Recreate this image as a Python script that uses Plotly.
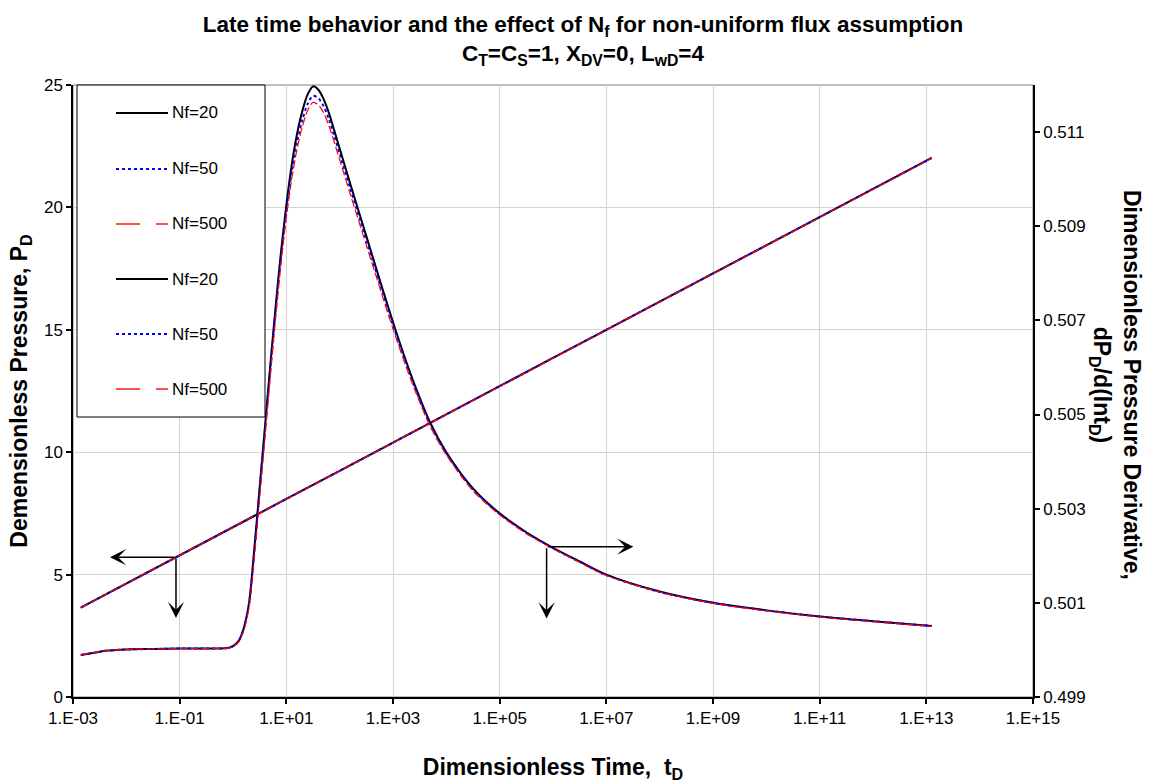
import plotly.graph_objects as go

# ---------------- data ----------------
series_names = ["Nf=20", "Nf=50", "Nf=500"]

t_p = [1.4e-3, 1e-2, 1e-1, 1, 10, 100, 1e3, 1e4, 1e5, 1e6, 1e7, 1e8, 1e9, 1e10, 1e11, 1e12, 1.26e13]
p_nf20 = [3.65, 4.64, 5.79, 6.94, 8.09, 9.24, 10.40, 11.55, 12.70, 13.85, 15.00, 16.15, 17.30, 18.45, 19.60, 20.75, 22.02]
p_nf50 = [3.65, 4.64, 5.79, 6.94, 8.09, 9.24, 10.40, 11.55, 12.70, 13.85, 15.00, 16.15, 17.30, 18.45, 19.60, 20.75, 22.02]
p_nf500 = [3.65, 4.64, 5.79, 6.94, 8.09, 9.24, 10.39, 11.54, 12.69, 13.84, 14.99, 16.14, 17.29, 18.44, 19.59, 20.74, 22.01]

t_d = [1.4e-3, 2.5e-3, 4e-3, 1e-2, 3.16e-2, 0.1, 0.316, 0.79, 1, 1.26, 1.58, 2, 2.51, 3.16, 3.98,
       5.01, 6.31, 7.94, 10, 12.6, 15.8, 20, 25.1, 31.6, 39.8, 50.1, 63.1, 79.4, 100, 158, 251,
       398, 631, 1000, 1585, 2512, 5012, 1e4, 3.16e4, 1e5, 3.16e5, 1e6, 3.16e6, 1e7, 1e8, 1e9,
       1e10, 1e11, 1e12, 1.26e13]
d_nf20 = [0.49989, 0.49994, 0.49998, 0.50001, 0.50002, 0.50003, 0.50003, 0.50004, 0.50008, 0.50018,
          0.50045, 0.50100, 0.50215, 0.50345, 0.50475, 0.50605, 0.50730, 0.50845, 0.50945, 0.51030,
          0.51095, 0.51145, 0.51180, 0.51197, 0.51190, 0.51170, 0.51140, 0.51103, 0.51065, 0.50990,
          0.50916, 0.50842, 0.50768, 0.50696, 0.50628, 0.50565, 0.50482, 0.50420, 0.50343, 0.50290,
          0.50250, 0.50217, 0.50188, 0.50160, 0.50124, 0.50100, 0.50084, 0.50071, 0.50061, 0.50051]
d_nf50 = [0.49989, 0.49994, 0.49998, 0.50001, 0.50002, 0.50003, 0.50003, 0.50004, 0.50008, 0.50018,
          0.50044, 0.50098, 0.50210, 0.50340, 0.50468, 0.50597, 0.50722, 0.50835, 0.50933, 0.51015,
          0.51078, 0.51126, 0.51160, 0.51177, 0.51172, 0.51155, 0.51127, 0.51091, 0.51054, 0.50980,
          0.50907, 0.50834, 0.50761, 0.50690, 0.50623, 0.50561, 0.50479, 0.50418, 0.50341, 0.50289,
          0.50249, 0.50216, 0.50187, 0.50159, 0.50123, 0.50100, 0.50084, 0.50071, 0.50061, 0.50051]
d_nf500 = [0.49989, 0.49994, 0.49998, 0.50001, 0.50002, 0.50003, 0.50003, 0.50004, 0.50007, 0.50016,
           0.50040, 0.50090, 0.50195, 0.50322, 0.50450, 0.50580, 0.50705, 0.50820, 0.50918, 0.51000,
           0.51063, 0.51112, 0.51146, 0.51163, 0.51158, 0.51141, 0.51113, 0.51078, 0.51041, 0.50968,
           0.50896, 0.50824, 0.50752, 0.50682, 0.50616, 0.50555, 0.50474, 0.50414, 0.50338, 0.50287,
           0.50247, 0.50215, 0.50186, 0.50158, 0.50123, 0.50099, 0.50083, 0.50070, 0.50060, 0.50050]

x_tickvals = [1e-3, 1e-1, 1e1, 1e3, 1e5, 1e7, 1e9, 1e11, 1e13, 1e15]
x_ticktext = ["1.E-03", "1.E-01", "1.E+01", "1.E+03", "1.E+05", "1.E+07", "1.E+09", "1.E+11", "1.E+13", "1.E+15"]
y_tickvals = [0, 5, 10, 15, 20, 25]
y2_tickvals = [0.499, 0.501, 0.503, 0.505, 0.507, 0.509, 0.511]

# arrow anchor points (log10 t, P_D)
arrow_left_base = (-1.069, 5.71)
arrow_left_tips = [(-2.306, 5.71), (-1.069, 3.23)]
arrow_right_base = (5.88, 6.14)
arrow_right_tips = [(7.507, 6.14), (5.88, 3.21)]

# ---------------- styling ----------------
FONT = "Arial, Liberation Sans, sans-serif"
styles = [
    dict(color="#000000", width=2, dash="solid"),
    dict(color="#0000FF", width=2, dash="dot"),
    dict(color="#FF0000", width=1.2, dash="8px,3px"),
]

fig = go.Figure()
p_series = [p_nf20, p_nf50, p_nf500]
d_series = [d_nf20, d_nf50, d_nf500]
for name, ys, st in zip(series_names, p_series, styles):
    fig.add_trace(go.Scatter(x=t_p, y=ys, mode="lines", name=name, line=st,
                             yaxis="y", showlegend=False))
for name, ys, st in zip(series_names, d_series, styles):
    fig.add_trace(go.Scatter(x=t_d, y=ys, mode="lines", name=name,
                             line=dict(**st, shape="spline", smoothing=0.8),
                             yaxis="y2", showlegend=False))

W, H = 1149, 783
ML, MR, MT, MB = 73, 116, 85, 86
PW, PH = W - ML - MR, H - MT - MB


def px2paper(px, py):
    return (px - ML) / PW, (H - MB - py) / PH


shapes = []
annotations = []

# plot area border (gray)
shapes.append(dict(type="rect", xref="paper", yref="paper", x0=0, x1=1, y0=0, y1=1,
                   line=dict(color="#808080", width=1), layer="below"))

# manual legend box
lx0, ly0 = px2paper(77, 417)
lx1, ly1 = px2paper(265, 85)
shapes.append(dict(type="rect", xref="paper", yref="paper", x0=lx0, x1=lx1, y0=ly0, y1=ly1,
                   line=dict(color="#000000", width=1), fillcolor="white", layer="above"))
legend_rows_py = [113, 169, 224, 279, 334, 389]
legend_labels = series_names + series_names
legend_styles = [
    dict(color="#000000", width=2, dash="solid"),
    dict(color="#0000FF", width=2, dash="3px,3px"),
    dict(color="#FF5050", width=2, dash="24px,16px"),
] * 2
for py, lab, st in zip(legend_rows_py, legend_labels, legend_styles):
    xa, ya = px2paper(116, py)
    xb, _ = px2paper(168, py)
    shapes.append(dict(type="line", xref="paper", yref="paper", x0=xa, x1=xb, y0=ya, y1=ya,
                       line=st, layer="above"))
    xt, _ = px2paper(170, py)
    annotations.append(dict(xref="paper", yref="paper", x=xt, y=ya, text=lab, showarrow=False,
                            xanchor="left", yanchor="middle",
                            font=dict(family=FONT, size=17, color="#000000")))

# arrows
for base, tips in [(arrow_left_base, arrow_left_tips), (arrow_right_base, arrow_right_tips)]:
    for tip in tips:
        annotations.append(dict(x=tip[0], y=tip[1], ax=base[0], ay=base[1],
                                xref="x", yref="y", axref="x", ayref="y",
                                text="", showarrow=True, arrowhead=3, arrowsize=1.8,
                                arrowwidth=1.5, arrowcolor="#000000", standoff=0))

# right axis title (reads top to bottom)
rx, ry = px2paper(1116, 385)
annotations.append(dict(xref="paper", yref="paper", x=rx, y=ry,
                        text="Dimensionless Pressure Derivative,<br>dP<sub>D</sub>/d(lnt<sub>D</sub>)",
                        textangle=90, showarrow=False, xanchor="center", yanchor="middle",
                        font=dict(family=FONT, size=23, color="#000000", weight="bold")))

axis_common = dict(showline=True, linecolor="#000000", linewidth=1.5, ticks="outside",
                   ticklen=5, tickcolor="#000000", tickwidth=1.5, zeroline=False,
                   automargin=False,
                   tickfont=dict(family=FONT, size=17, color="#000000"))

fig.update_layout(
    width=W, height=H,
    margin=dict(l=ML, r=MR, t=MT, b=MB, pad=0, autoexpand=False),
    paper_bgcolor="white", plot_bgcolor="white",
    showlegend=False,
    title=dict(
        text="Late time behavior and the effect of N<sub>f</sub> for non-uniform flux assumption<br>"
             "C<sub>T</sub>=C<sub>S</sub>=1, X<sub>DV</sub>=0, L<sub>wD</sub>=4",
        x=583 / W, xanchor="center", xref="container",
        y=1 - 32 / H, yanchor="middle", yref="container",
        font=dict(family=FONT, size=22.5, color="#000000", weight="bold")),
    xaxis=dict(type="log", range=[-3, 15], tickvals=x_tickvals, ticktext=x_ticktext,
               showgrid=True, gridcolor="#d4d4d4", gridwidth=1,
               title=dict(text="Dimensionless Time,\u00a0 t<sub>D</sub>", standoff=34,
                          font=dict(family=FONT, size=23, color="#000000", weight="bold")),
               **axis_common),
    yaxis=dict(range=[0, 25], tickvals=y_tickvals, showgrid=True,
               gridcolor="#d4d4d4", gridwidth=1,
               title=dict(text="Demensionless Pressure, P<sub>D</sub>", standoff=10,
                          font=dict(family=FONT, size=23, color="#000000", weight="bold")),
               **axis_common),
    yaxis2=dict(range=[0.499, 0.512], overlaying="y", side="right", tickvals=y2_tickvals,
                tickformat=".3f", showgrid=False, **axis_common),
    shapes=shapes,
    annotations=annotations,
)

fig.write_html("out.html")
